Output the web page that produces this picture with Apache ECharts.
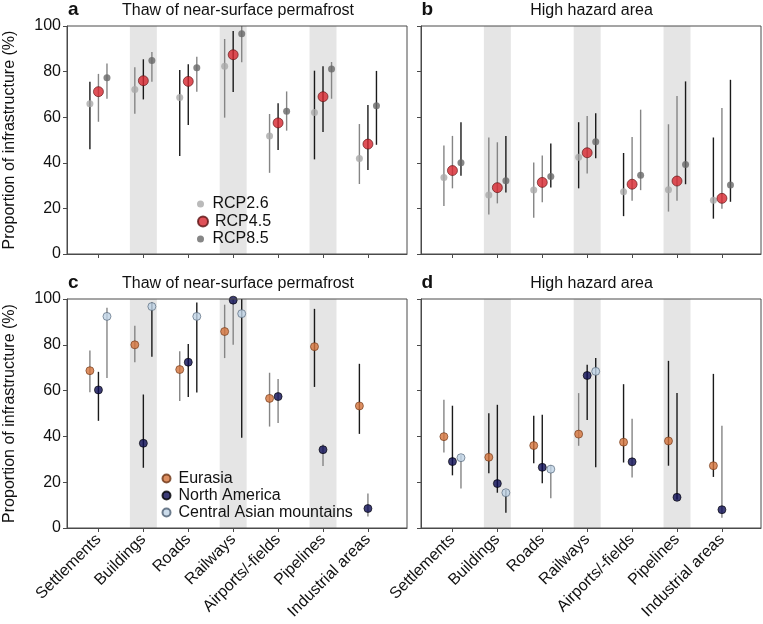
<!DOCTYPE html>
<html>
<head>
<meta charset="utf-8">
<script src="https://cdn.jsdelivr.net/npm/echarts@6/dist/echarts.min.js"></script>
<style>html,body{margin:0;padding:0;background:#fff}#chart{width:763px;height:624px}</style>
</head>
<body>
<div id="chart"></div>
<script>
// ---------- data ----------
const categories = ['Settlements', 'Buildings', 'Roads', 'Railways', 'Airports/-fields', 'Pipelines', 'Industrial areas'];
const shadedCategories = ['Buildings', 'Railways', 'Pipelines'];
const yTicks = [0, 20, 40, 60, 80, 100];

// Panel a: thaw of near-surface permafrost, by RCP
const thawRcp26   = [65.9, 72.2, 68.6, 82.3, 51.8, 62.1, 41.9];
const thawRcp26Lo = [45.9, 61.5, 43.0, 59.8, 35.6, 41.5, 30.7];
const thawRcp26Hi = [75.5, 81.9, 80.7, 94.3, 61.4, 80.4, 57.0];
const thawRcp45   = [71.2, 76.0, 75.7, 87.4, 57.5, 69.0, 48.2];
const thawRcp45Lo = [58.0, 67.8, 56.6, 71.0, 45.6, 53.5, 36.8];
const thawRcp45Hi = [79.0, 85.4, 83.2, 97.8, 66.1, 82.3, 65.4];
const thawRcp85   = [77.3, 84.9, 81.7, 96.6, 62.6, 81.1, 65.0];
const thawRcp85Lo = [68.1, 75.6, 71.2, 84.1, 54.1, 68.1, 47.9];
const thawRcp85Hi = [83.6, 88.6, 86.5, 100.0, 71.3, 84.2, 80.3];
const thawRcp26Sig = [1, 0, 1, 0, 0, 1, 0];
const thawRcp45Sig = [0, 1, 1, 1, 1, 1, 1];
const thawRcp85Sig = [0, 0, 0, 0, 0, 0, 1];

// Panel b: high hazard area, by RCP
const hazRcp26   = [33.5, 25.9, 28.1, 42.4, 27.3, 28.2, 23.6];
const hazRcp26Lo = [21.0, 17.3, 15.9, 28.8, 16.6, 18.6, 15.5];
const hazRcp26Hi = [47.6, 51.1, 40.1, 57.8, 44.3, 56.9, 51.1];
const hazRcp45   = [36.6, 29.1, 31.4, 44.4, 30.6, 32.0, 24.4];
const hazRcp45Lo = [28.8, 22.2, 22.7, 35.3, 23.4, 23.4, 19.8];
const hazRcp45Hi = [51.8, 49.0, 43.2, 60.5, 51.3, 69.3, 64.0];
const hazRcp85   = [40.0, 32.1, 34.0, 49.2, 34.5, 39.3, 30.3];
const hazRcp85Lo = [34.3, 27.0, 29.2, 42.0, 28.0, 30.6, 22.9];
const hazRcp85Hi = [57.8, 51.8, 48.5, 61.7, 63.3, 75.7, 76.4];
const hazRcp26Sig = [0, 0, 0, 1, 1, 0, 1];
const hazRcp45Sig = [0, 0, 0, 0, 0, 0, 0];
const hazRcp85Sig = [1, 1, 1, 1, 0, 1, 1];

// Panel c: thaw of near-surface permafrost, by region
const thawEur   = [68.7, 80.0, 69.2, 85.8, 56.6, 79.2, 53.3];
const thawEurLo = [59.3, 72.4, 55.5, 74.2, 44.3, 61.6, 41.1];
const thawEurHi = [77.5, 88.3, 77.2, 97.5, 67.8, 95.7, 71.7];
const thawNam   = [60.3, 37.0, 72.4, 99.5, 57.4, 34.2, 8.5];
const thawNamLo = [46.8, 26.3, 57.2, 80.0, 45.8, 27.1, 5.0];
const thawNamHi = [68.2, 58.3, 80.3, 100.0, 65.1, 36.5, 15.1];
const thawCam   = [92.4, 96.7, 92.4, 93.6, null, null, null];
const thawCamLo = [65.5, 74.8, 59.2, 39.4, null, null, null];
const thawCamHi = [96.2, 98.5, 98.5, 100.0, null, null, null];
const thawEurSig = [0, 0, 0, 0, 0, 1, 1];
const thawNamSig = [1, 1, 1, 0, 0, 0, 0];
const thawCamSig = [0, 1, 1, 1, 0, 0, 0];

// Panel d: high hazard area, by region
const hazEur   = [39.9, 30.9, 36.0, 41.0, 37.5, 38.0, 27.2];
const hazEurLo = [33.0, 23.9, 28.3, 35.9, 28.6, 27.2, 22.3];
const hazEurHi = [56.0, 50.1, 49.0, 58.9, 62.8, 73.0, 67.3];
const hazNam   = [29.0, 19.4, 26.5, 66.6, 28.9, 13.4, 8.0];
const hazNamLo = [23.0, 15.4, 19.5, 47.2, 22.0, 12.5, 4.5];
const hazNamHi = [53.4, 53.8, 49.4, 71.3, 47.7, 58.9, 44.6];
const hazCam   = [30.7, 15.4, 25.7, 68.4, null, null, null];
const hazCamLo = [17.3, 6.7, 13.0, 26.5, null, null, null];
const hazCamHi = [31.8, 16.6, 27.5, 74.2, null, null, null];
const hazEurSig = [0, 1, 1, 0, 1, 1, 1];
const hazNamSig = [1, 1, 1, 1, 0, 1, 0];
const hazCamSig = [0, 1, 0, 1, 0, 0, 0];

const rcpNames = ['RCP2.6', 'RCP4.5', 'RCP8.5'];
const regionNames = ['Eurasia', 'North America', 'Central Asian mountains'];

// ---------- styling / layout ----------
const FONT = 'Liberation Sans, Arial, Helvetica, sans-serif';
const OFFSETS = [-0.19, 0, 0.19];
const BLACK_BAR = '#1a1a1a', GREY_BAR = '#858585';
const AXIS_COLOR = '#4a4a4a';
const styles = {
  'RCP2.6': { size: 7, itemStyle: { color: '#a9a9a9' } },
  'RCP4.5': { size: 10, itemStyle: { color: '#d7262e', borderColor: '#5a1212', borderWidth: 0.8 } },
  'RCP8.5': { size: 7, itemStyle: { color: '#686868' } },
  'Eurasia': { size: 8, itemStyle: { color: '#d4733b', borderColor: '#6b3415', borderWidth: 0.8 } },
  'North America': { size: 8, itemStyle: { color: '#0c0c55', borderColor: '#000', borderWidth: 0.8 } },
  'Central Asian mountains': { size: 8, itemStyle: { color: '#bfd3e6', borderColor: '#4b5d70', borderWidth: 0.8 } }
};

const grids = [
  { left: 67, top: 26, width: 340, height: 228 },
  { left: 421, top: 26, width: 340, height: 228 },
  { left: 67, top: 299, width: 340, height: 229 },
  { left: 421, top: 299, width: 340, height: 229 }
];

const panels = [
  { names: rcpNames, mid: [thawRcp26, thawRcp45, thawRcp85], lo: [thawRcp26Lo, thawRcp45Lo, thawRcp85Lo], hi: [thawRcp26Hi, thawRcp45Hi, thawRcp85Hi], sig: [thawRcp26Sig, thawRcp45Sig, thawRcp85Sig] },
  { names: rcpNames, mid: [hazRcp26, hazRcp45, hazRcp85], lo: [hazRcp26Lo, hazRcp45Lo, hazRcp85Lo], hi: [hazRcp26Hi, hazRcp45Hi, hazRcp85Hi], sig: [hazRcp26Sig, hazRcp45Sig, hazRcp85Sig] },
  { names: regionNames, mid: [thawEur, thawNam, thawCam], lo: [thawEurLo, thawNamLo, thawCamLo], hi: [thawEurHi, thawNamHi, thawCamHi], sig: [thawEurSig, thawNamSig, thawCamSig] },
  { names: regionNames, mid: [hazEur, hazNam, hazCam], lo: [hazEurLo, hazNamLo, hazCamLo], hi: [hazEurHi, hazNamHi, hazCamHi], sig: [hazEurSig, hazNamSig, hazCamSig] }
];

const catPositions = categories.map((c, i) => i + 1);
const series = [];
const xAxes = [], yAxes = [];

grids.forEach((g, gi) => {
  const bottomRow = gi >= 2, leftCol = gi % 2 === 0;
  xAxes.push({
    type: 'value', gridIndex: gi, min: 0.3, max: 7.87, z: 5,
    splitLine: { show: false },
    axisLine: { show: true, onZero: false, lineStyle: { color: AXIS_COLOR, width: 1 } },
    axisTick: { show: true, length: 4, customValues: catPositions, lineStyle: { color: AXIS_COLOR } },
    axisLabel: {
      show: bottomRow, customValues: catPositions, rotate: 45, margin: 9,
      fontSize: 16, color: '#111', fontFamily: FONT,
      formatter: v => categories[Math.round(v) - 1] || ''
    }
  });
  yAxes.push({
    type: 'value', gridIndex: gi, min: 0, max: 100, interval: 20, z: 5,
    splitLine: { show: false },
    axisLine: { show: true, lineStyle: { color: AXIS_COLOR, width: 1 } },
    axisTick: { show: true, length: 4, lineStyle: { color: AXIS_COLOR } },
    axisLabel: { show: leftCol, fontSize: 16, color: '#111', fontFamily: FONT, margin: 6 },
    name: leftCol ? 'Proportion of infrastructure (%)' : '',
    nameLocation: 'middle', nameGap: 49,
    nameTextStyle: { fontSize: 16, color: '#111', fontFamily: FONT }
  });

  // shaded category bands
  series.push({
    type: 'custom', xAxisIndex: gi, yAxisIndex: gi, z: 1, silent: true,
    data: shadedCategories.map(c => [categories.indexOf(c) + 1, 0]),
    encode: { x: 0, y: 1 },
    renderItem: (params, api) => {
      const x = api.value(0);
      const p1 = api.coord([x - 0.3, 100]);
      const p2 = api.coord([x + 0.3, 0]);
      return { type: 'rect', shape: { x: p1[0], y: p1[1], width: p2[0] - p1[0], height: p2[1] - p1[1] }, style: { fill: '#e5e5e5' } };
    }
  });

  const p = panels[gi];
  // error bars
  const barData = [];
  p.names.forEach((n, si) => {
    p.lo[si].forEach((l, i) => {
      if (l == null) return;
      barData.push([i + 1 + OFFSETS[si], l, p.hi[si][i], p.sig[si][i]]);
    });
  });
  series.push({
    type: 'custom', xAxisIndex: gi, yAxisIndex: gi, z: 2, silent: true,
    data: barData, encode: { x: 0, y: [1, 2] },
    renderItem: (params, api) => {
      const x = api.value(0);
      const a = api.coord([x, api.value(1)]);
      const b = api.coord([x, api.value(2)]);
      return { type: 'line', shape: { x1: a[0], y1: a[1], x2: b[0], y2: b[1] }, style: { stroke: api.value(3) ? BLACK_BAR : GREY_BAR, lineWidth: 1.4 } };
    }
  });
  // points
  p.names.forEach((n, si) => {
    const d = [];
    p.mid[si].forEach((v, i) => { if (v != null) d.push([i + 1 + OFFSETS[si], v]); });
    series.push({
      type: 'scatter', name: n, xAxisIndex: gi, yAxisIndex: gi, z: 3, clip: false,
      symbol: 'circle', symbolSize: styles[n].size, itemStyle: styles[n].itemStyle,
      data: d
    });
  });
});

const legendText = { fontSize: 16, color: '#111', fontFamily: FONT };
const legends = [
  { data: ['RCP2.6'], left: 197, top: 196, itemWidth: 14, itemHeight: 7 },
  { data: ['RCP4.5'], left: 197, top: 213.5, itemWidth: 14, itemHeight: 10 },
  { data: ['RCP8.5'], left: 197, top: 231, itemWidth: 14, itemHeight: 7 },
  { data: regionNames, orient: 'vertical', left: 161.5, top: 470.5, itemGap: 1, itemWidth: 14, itemHeight: 8 }
].map(l => Object.assign({ icon: 'circle', padding: 0, selectedMode: false, textStyle: legendText }, l));

const titleStyle = (txt, x, y, bold) => ({
  type: 'text', x: x, y: y, silent: true,
  style: {
    text: txt, fill: '#111',
    font: (bold ? 'bold 19px ' : '16px ') + FONT,
    textAlign: bold ? 'left' : 'center', textVerticalAlign: 'middle'
  }
});

const graphics = [
  titleStyle('a', 68, 9.5, true),
  titleStyle('Thaw of near-surface permafrost', 238, 11, false),
  titleStyle('b', 421.5, 9.5, true),
  titleStyle('High hazard area', 591.5, 11, false),
  titleStyle('c', 68, 282.5, true),
  titleStyle('Thaw of near-surface permafrost', 238, 284, false),
  titleStyle('d', 421.5, 282.5, true),
  titleStyle('High hazard area', 591.5, 284, false)
];

const chart = echarts.init(document.getElementById('chart'), null, { renderer: 'canvas' });
chart.setOption({
  animation: false,
  backgroundColor: '#fff',
  textStyle: { fontFamily: FONT },
  grid: grids.map(g => Object.assign({ show: true, z: 4, borderColor: AXIS_COLOR, borderWidth: 1, backgroundColor: 'transparent', containLabel: false }, g)),
  xAxis: xAxes,
  yAxis: yAxes,
  legend: legends,
  graphic: graphics,
  series: series
});
</script>
</body>
</html>
